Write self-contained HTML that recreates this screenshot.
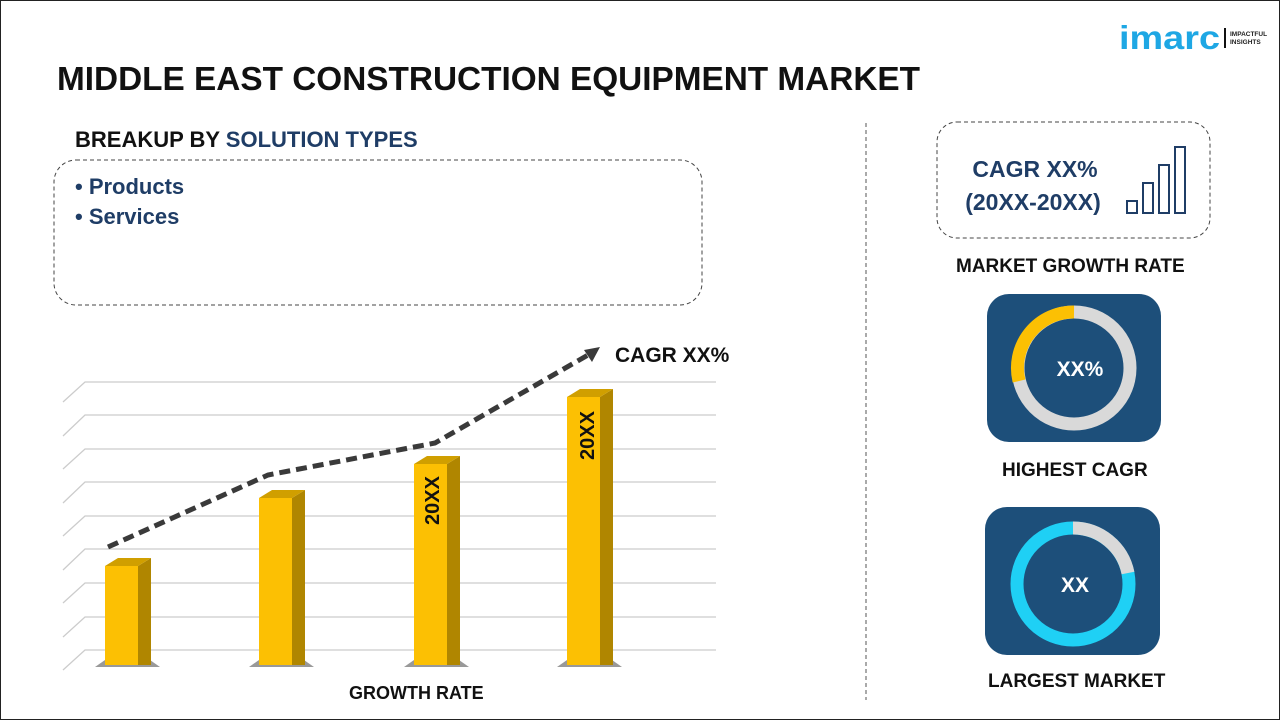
<!DOCTYPE html><html><head><style>
body{margin:0;width:1280px;height:720px;background:#fff;font-family:"Liberation Sans",sans-serif;overflow:hidden}
</style></head><body>
<svg width="1280" height="720" xmlns="http://www.w3.org/2000/svg" style="position:absolute;left:0;top:0">
<rect x="0.5" y="0.5" width="1279" height="719" fill="none" stroke="#222" stroke-width="1"/>
<text x="57" y="90" font-family="Liberation Sans" font-weight="bold" font-size="33.5" fill="#111" textLength="863" lengthAdjust="spacingAndGlyphs">MIDDLE EAST CONSTRUCTION EQUIPMENT MARKET</text>
<text x="1119" y="49" font-family="Liberation Sans" font-weight="bold" font-size="33" fill="#1ea7e4" textLength="101" lengthAdjust="spacingAndGlyphs">imarc</text>
<rect x="1224" y="28" width="2" height="20" fill="#111"/>
<text x="1230" y="36" font-family="Liberation Sans" font-weight="bold" font-size="6.5" fill="#222">IMPACTFUL</text>
<text x="1230" y="44" font-family="Liberation Sans" font-weight="bold" font-size="6.5" fill="#222">INSIGHTS</text>
<text x="75" y="147" font-family="Liberation Sans" font-weight="bold" font-size="22" fill="#111">BREAKUP BY <tspan fill="#1f3d66">SOLUTION TYPES</tspan></text>
<rect x="54" y="160" width="648" height="145" rx="22" fill="none" stroke="#444" stroke-dasharray="4 3"/>
<text x="75" y="194" font-family="Liberation Sans" font-weight="bold" font-size="22" fill="#1f3d66">• Products</text>
<text x="75" y="224" font-family="Liberation Sans" font-weight="bold" font-size="22" fill="#1f3d66">• Services</text>
<line x1="866" y1="123" x2="866" y2="700" stroke="#555" stroke-dasharray="4 3"/>
<g stroke="#ccc" stroke-width="1.3" fill="none">
<path d="M63 402 L85 382 H716 M63 436 L85 415 H716 M63 469 L85 449 H716 M63 503 L85 482 H716 M63 536 L85 516 H716 M63 570 L85 549 H716 M63 603 L85 583 H716 M63 637 L85 617 H716 M63 670 L85 650 H716"/>
</g>
<g>
<path d="M95 667 L160 667 L150 660 L105 660Z" fill="#555" opacity=".6"/>
<rect x="105" y="566" width="33" height="99" fill="#fcc003"/><path d="M138 566 L151 558 V665 H138Z" fill="#b08600"/><path d="M105 566 L118 558 H151 L138 566Z" fill="#d09f00"/>
<path d="M249 667 L314 667 L304 660 L259 660Z" fill="#555" opacity=".6"/>
<rect x="259" y="498" width="33" height="167" fill="#fcc003"/><path d="M292 498 L305 490 V665 H292Z" fill="#b08600"/><path d="M259 498 L272 490 H305 L292 498Z" fill="#d09f00"/>
<path d="M404 667 L469 667 L459 660 L414 660Z" fill="#555" opacity=".6"/>
<rect x="414" y="464" width="33" height="201" fill="#fcc003"/><path d="M447 464 L460 456 V665 H447Z" fill="#b08600"/><path d="M414 464 L427 456 H460 L447 464Z" fill="#d09f00"/>
<path d="M557 667 L622 667 L612 660 L567 660Z" fill="#555" opacity=".6"/>
<rect x="567" y="397" width="33" height="268" fill="#fcc003"/><path d="M600 397 L613 389 V665 H600Z" fill="#b08600"/><path d="M567 397 L580 389 H613 L600 397Z" fill="#d09f00"/>
</g>
<text transform="translate(439,525) rotate(-90)" font-family="Liberation Sans" font-weight="bold" font-size="20" fill="#111">20XX</text>
<text transform="translate(594,460) rotate(-90)" font-family="Liberation Sans" font-weight="bold" font-size="20" fill="#111">20XX</text>
<polyline points="108,547 268,475 435,443 588,355" fill="none" stroke="#3a3a3a" stroke-width="5" stroke-dasharray="11 6"/>
<polygon points="600,347 584,350 592,362" fill="#3a3a3a"/>
<text x="615" y="362" font-family="Liberation Sans" font-weight="bold" font-size="21" fill="#111">CAGR XX%</text>
<text x="349" y="699" font-family="Liberation Sans" font-weight="bold" font-size="18" fill="#111">GROWTH RATE</text>
<rect x="937" y="122" width="273" height="116" rx="20" fill="none" stroke="#444" stroke-dasharray="4 3"/>
<text x="1035" y="177" text-anchor="middle" font-family="Liberation Sans" font-weight="bold" font-size="23" fill="#1f3d66">CAGR XX%</text>
<text x="1033" y="210" text-anchor="middle" font-family="Liberation Sans" font-weight="bold" font-size="23" fill="#1f3d66">(20XX-20XX)</text>
<g fill="none" stroke="#1f3d66" stroke-width="2"><rect x="1127" y="201" width="10" height="12"/><rect x="1143" y="183" width="10" height="30"/><rect x="1159" y="165" width="10" height="48"/><rect x="1175" y="147" width="10" height="66"/></g>
<text x="956" y="272" font-family="Liberation Sans" font-weight="bold" font-size="19" fill="#111">MARKET GROWTH RATE</text>
<rect x="987" y="294" width="174" height="148" rx="22" fill="#1d4f7a"/>
<circle cx="1074" cy="368" r="56" fill="none" stroke="#d9d9d9" stroke-width="13"/>
<path d="M1074 312 A56 56 0 0 0 1019 381" fill="none" stroke="#fcc003" stroke-width="13"/>
<text x="1080" y="376" text-anchor="middle" font-family="Liberation Sans" font-weight="bold" font-size="21" fill="#fff">XX%</text>
<text x="1002" y="476" font-family="Liberation Sans" font-weight="bold" font-size="19" fill="#111">HIGHEST CAGR</text>
<rect x="985" y="507" width="175" height="148" rx="22" fill="#1d4f7a"/>
<circle cx="1073" cy="584" r="56" fill="none" stroke="#1fd0f5" stroke-width="13"/>
<path d="M1073 528 A56 56 0 0 1 1128 573" fill="none" stroke="#d9d9d9" stroke-width="13"/>
<text x="1075" y="592" text-anchor="middle" font-family="Liberation Sans" font-weight="bold" font-size="21" fill="#fff">XX</text>
<text x="988" y="687" font-family="Liberation Sans" font-weight="bold" font-size="19" fill="#111">LARGEST MARKET</text>
</svg>
</body></html>
